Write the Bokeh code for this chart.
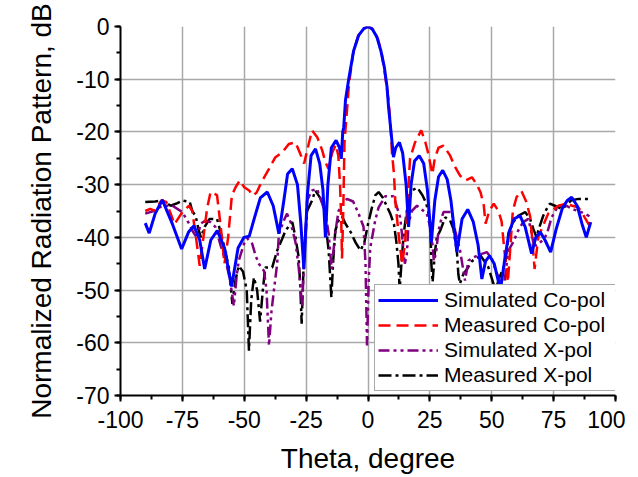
from bokeh.plotting import figure
from bokeh.models import (SingleIntervalTicker, FixedTicker, Legend, LegendItem, Range1d,
                          PrintfTickFormatter, Title)
from bokeh.embed import file_html
from bokeh.resources import INLINE

# ---------------- data ----------------
theta_sim_co = [-90, -88.4, -86, -83.1, -79, -75.3, -72.5, -70.3, -68, -66, -63.5, -60.9, -58, -55.1,
                -52.5, -50.1, -48, -46, -43.5, -40.7, -38.3, -36, -34, -32.5, -30.6, -28.5, -27.2, -25.9,
                -24.5, -23, -21.2, -19.5, -18.2, -17.2, -16.2, -14.8, -12.9, -11.5, -10.8, -10.2, -9.8,
                -9.1, -7.8, -5.8, -3.8, -1.7, 0, 1.6, 3.6, 5.2, 6.6, 7.7, 8.3, 9.4, 10.3, 11.2, 12.7, 14,
                15.4, 16.4, 17.4, 18.8, 20.7, 22.5, 24, 25.6, 27, 28.5, 30.2, 32, 33.5, 35.9, 38, 40.3,
                42.5, 44.5, 46, 47.5, 49.1, 51, 53.5, 55.3, 57, 59, 61.4, 63.5, 66.1, 67.8, 69.6, 71.5,
                73.8, 76, 78.5, 80.5, 82.3, 84.5, 86.5, 88.2, 90]
db_sim_co = [-37.3, -39.2, -35.5, -32.9, -37.5, -42.2, -39.0, -37.8, -40.5, -46.0, -40.5, -38.7, -42.0, -49.3,
             -42.0, -40.0, -39.8, -36.5, -32.5, -31.4, -34.0, -39.3, -33.0, -28.0, -27.0, -30.0, -37.0, -46.0,
             -32.0, -24.5, -23.2, -26.0, -31.0, -40.0, -30.0, -23.0, -21.6, -23.0, -25.1, -20.0, -19.1,
             -14.0, -10.0, -4.6, -1.7, -0.4, 0.0, -0.4, -2.0, -4.6, -7.7, -11.5, -15.3, -20.4, -24.8, -23.0, -22.0, -24.0,
             -30.0, -38.0, -30.0, -25.5, -24.5, -26.0, -31.0, -41.0, -33.0, -28.5, -27.3, -29.0, -33.0, -42.8, -36.5, -34.7,
             -37.0, -41.5, -47.9, -44.5, -43.5, -45.0, -50.0, -44.0, -39.0, -36.5, -35.9, -38.0, -43.1, -40.0, -39.0, -40.5,
             -42.8, -38.5, -34.5, -33.0, -32.4, -34.0, -37.5, -40.0, -37.1]

theta_meas_co = [-90, -88, -86, -83.5, -81.5, -79.7, -78.2, -76.4, -75, -72.3, -71, -69.5, -68, -66.5, -65,
                 -63.6, -61, -59.5, -58, -56.5, -55, -53.5, -51.8, -50, -48, -46.5, -45, -43, -40, -37.4,
                 -34.7, -32, -29.3, -27.5, -25.8, -24.6, -22.6, -20.5, -18.5, -17.2, -16, -14.5, -13, -12,
                 -11.3, -10.8, -10.5, -10, -9.5, -8.5, -7.7, -6, -4, -2, 0, 2, 4, 5.5, 7, 8.3, 9, 9.7, 10.5,
                 11, 12.5, 13.8, 15, 16, 17, 19, 21.5, 23.2, 24.4, 26, 27, 28.5, 30.5, 33.2, 35, 37.2, 39.5,
                 42, 44, 45.5, 46.8, 47.5, 49, 50.8, 52.7, 54, 55, 56.5, 57.5, 58.5, 60, 62, 64, 65.5, 66.5,
                 67.3, 68.8, 70.2, 72.8, 76.9, 80.2, 82.5, 85, 87, 89.5]
db_meas_co = [-35.0, -34.6, -35.0, -33.0, -33.3, -35.5, -37.5, -36.2, -35.2, -34.0, -35.0, -40.0, -45.4, -40.0, -34.5,
              -31.4, -32.0, -38.0, -45.0, -40.0, -32.0, -30.5, -29.2, -30.5, -31.1, -32.1, -31.5, -29.5, -27.0, -24.8,
              -23.9, -22.3, -22.0, -24.0, -26.0, -23.5, -19.7, -21.0, -23.5, -25.7, -27.0, -24.0, -22.4, -24.5,
              -30.0, -37.0, -44.0, -35.0, -22.0, -16.0, -11.0, -5.0, -1.8, -0.5, 0.0, -0.6, -2.4, -5.0, -9.5, -14.0, -18.0, -24.0, -28.0,
              -33.0, -40.0, -45.0, -41.0, -33.0, -25.0, -22.0, -19.7, -22.0, -24.2, -28.0, -25.0, -23.0, -22.6, -24.5, -26.5, -28.3, -29.2,
              -28.6, -30.0, -31.5, -34.0, -37.4, -35.0, -33.6, -35.0, -37.0, -42.0, -48.5, -42.0, -35.0, -32.4, -31.2, -33.3, -36.0, -41.0,
              -46.0, -40.0, -38.4, -35.5, -34.0, -33.6, -34.0, -34.3, -35.8, -37.8]

theta_sim_x = [-90, -86.5, -83.1, -79, -75, -72.3, -71, -69, -67.6, -65.6, -63.7, -61.7, -59.5, -57.5, -55.8,
               -54.2, -53, -52.2, -50.1, -48.8, -46.8, -45.4, -44.1, -42, -41, -40, -39, -38, -36.7, -36,
               -34, -32.7, -31.3, -29.3, -28, -26.6, -25.6, -24.6, -22.6, -20.6, -18.5, -17.2, -15.9, -14.7,
               -13.2, -11.9, -10, -8.5, -6, -3.8, -1.8, -1, -0.4, 0.3, 0.9, 2.9, 4.3, 7, 10.3, 11.7, 13,
               13.7, 14.4, 14.9, 15.7, 16.4, 17.7, 19.8, 23.8, 25.1, 25.8, 26.6, 27.5, 28.5, 29.8, 30.5,
               33.9, 35.2, 37.2, 39.2, 40.6, 42.6, 45, 48, 50, 51.2, 53.2, 54.7, 55.8, 56.7, 58.7, 60.7,
               62.7, 64.8, 65.8, 66.8, 68, 70, 72.2, 74.2, 76.9, 80.2, 82.3, 85, 87.6, 89.5]
db_sim_x = [-35.5, -35.0, -34.0, -34.0, -35.2, -37.4, -38.7, -40.2, -37.4, -36.8, -37.1, -38.0, -41.6, -44.4, -48.0,
            -53.0, -47.0, -44.4, -41.2, -40.2, -41.2, -43.5, -45.0, -46.4, -50.0, -60.5, -54.0, -50.0, -45.0, -39.3,
            -36.8, -35.5, -37.1, -40.9, -45.7, -53.0, -42.0, -33.0, -31.1, -30.8, -33.6, -35.5, -39.3, -46.0,
            -39.0, -35.0, -33.5, -32.7, -33.2, -35.5, -38.0, -45.0, -60.5, -48.0, -42.0, -36.8, -34.3, -32.2, -32.2, -34.3, -36.2,
            -39.3, -43.1, -45.0, -43.1, -37.4, -35.0, -34.0, -35.5, -38.0, -40.0, -44.5, -43.0, -38.7, -36.2, -35.2,
            -35.2, -38.7, -42.5, -48.2, -44.4, -43.8, -43.3, -42.8, -44.0, -45.7, -48.2, -50.0, -46.0, -42.5, -40.9, -38.7,
            -37.1, -36.5, -38.5, -41.0, -41.6, -40.8, -39.5, -36.2, -34.0, -34.0, -34.6, -35.0, -35.5, -36.0]

theta_meas_x = [-90, -86, -83.1, -79.7, -77, -75, -72, -71, -69.6, -68.5, -67.5, -66, -64, -61, -59, -57.5,
                -56.2, -54.8, -53.5, -52.2, -50.5, -49, -48.1, -47.2, -46.1, -44.8, -43.6, -42.5, -41.5,
                -38.7, -36.7, -34.7, -33.3, -30.6, -29.3, -28, -27.3, -26.8, -26, -24.6, -22.6, -21.3, -19.2,
                -17.9, -16.5, -15.9, -14.8, -14, -13.2, -11.9, -10.5, -9, -7, -5, -3, -1.5, 0, 1.5, 3, 4.3,
                6, 7.5, 9, 10.5, 11.5, 12.3, 12.8, 13.5, 14.5, 15.7, 16.4, 18, 20, 22, 23.5, 24.5, 25.2,
                25.6, 26.1, 27, 27.8, 29.2, 31.2, 33.2, 34.5, 35.9, 36.5, 37.1, 38.5, 40, 42, 45.5, 48.5,
                51.5, 53.2, 55.4, 56.2, 56.7, 58.7, 60.7, 63.5, 65.5, 66.8, 68.1, 69, 70.8, 72.2, 73.5, 75.5,
                78.2, 80.2, 82, 85, 89]
db_meas_x = [-33.3, -33.2, -33.0, -34.0, -33.5, -33.0, -33.3, -35.0, -36.0, -38.5, -40.0, -38.0, -36.5, -36.5, -40.0, -43.0,
             -45.7, -52.6, -48.0, -45.4, -46.5, -50.0, -61.5, -52.0, -47.6, -50.0, -56.0, -50.0, -45.7,
             -45.7, -42.5, -40.3, -38.7, -37.1, -40.0, -43.8, -50.0, -56.4, -45.0, -35.0, -33.0, -31.1, -32.6,
             -34.3, -40.0, -42.5, -51.4, -44.0, -38.7, -36.8, -36.0, -37.5, -39.0, -41.0, -42.5, -41.0, -37.5, -34.5, -32.0, -31.4,
             -32.5, -34.0, -35.5, -37.5, -41.0, -45.0, -50.0, -45.0, -39.0, -35.0, -33.0, -31.0, -30.6, -32.0, -33.5, -35.5, -37.5,
             -45.0, -48.5, -43.0, -40.0, -38.7, -36.2, -36.8, -38.4, -42.5, -47.0, -48.8, -47.0, -46.0, -44.5, -43.5, -45.5,
             -50.0, -47.5, -45.0, -42.0, -39.3, -37.1, -35.9, -35.2, -36.5, -38.4, -40.0, -38.4, -35.9, -34.6, -33.6, -34.0,
             -34.6, -34.0, -33.0, -32.7, -32.7]

series_names = ["Simulated Co-pol", "Measured Co-pol", "Simulated X-pol", "Measured X-pol"]
x_ticks = [-100, -75, -50, -25, 0, 25, 50, 75, 100]
y_ticks = [-70, -60, -50, -40, -30, -20, -10, 0]
x_title = "Theta, degree"
y_title = "Normalized Radiation Pattern, dB"

FONT = "Liberation Sans"

p = figure(frame_width=495, frame_height=369, min_border_left=120, min_border_right=10,
           min_border_top=26, min_border_bottom=76,
           x_range=Range1d(x_ticks[0], x_ticks[-1]), y_range=Range1d(y_ticks[0], y_ticks[-1]),
           output_backend="svg", toolbar_location=None)
p.outline_line_color = None
p.background_fill_color = "white"
p.border_fill_color = "white"

# axes
for ax, interval in ((p.xaxis[0], x_ticks[1] - x_ticks[0]), (p.yaxis[0], y_ticks[1] - y_ticks[0])):
    ax.ticker = SingleIntervalTicker(interval=interval, num_minor_ticks=2)
    ax.formatter = PrintfTickFormatter(format="%d")
    ax.axis_line_color = "black"
    ax.axis_line_width = 2
    ax.major_tick_line_color = "black"
    ax.major_tick_line_width = 2
    ax.major_tick_out = 6
    ax.major_tick_in = 0
    ax.minor_tick_line_color = "black"
    ax.minor_tick_line_width = 2
    ax.minor_tick_out = 4
    ax.minor_tick_in = 0
    ax.major_label_text_font = FONT
    ax.major_label_text_font_size = "23px"
    ax.major_label_text_color = "black"
    ax.axis_label_text_font = FONT
    ax.axis_label_text_font_size = "28px"
    ax.axis_label_text_font_style = "normal"
    ax.axis_label_text_color = "black"

p.xaxis.axis_label = x_title
p.xaxis.major_label_standoff = 9
p.xaxis.axis_label_standoff = 12
p.yaxis.major_label_standoff = 5

# y-axis title as a side title (longer than the frame)
ytitle = Title(text=y_title, align="center", offset=-19, standoff=34, text_font=FONT,
               text_font_size="28px", text_font_style="normal", text_color="black")
p.add_layout(ytitle, "left")

# grid (interior lines only)
p.xgrid.ticker = FixedTicker(ticks=x_ticks[1:-1])
p.ygrid.ticker = FixedTicker(ticks=y_ticks[1:-1])
for g in (p.xgrid[0], p.ygrid[0]):
    g.grid_line_color = "#a8a8a8"
    g.grid_line_width = 1.5

# lines
r_mx = p.line(theta_meas_x, db_meas_x, line_color="black", line_width=2.5, line_dash="13 4 3 4")
r_sx = p.line(theta_sim_x, db_sim_x, line_color="#800080", line_width=2.5, line_dash="11 4 3 4 3 4")
r_mc = p.line(theta_meas_co, db_meas_co, line_color="#ff0000", line_width=2.5, line_dash="12 6")
r_sc = p.line(theta_sim_co, db_sim_co, line_color="#0000ff", line_width=3)

legend = Legend(items=[LegendItem(label=series_names[0], renderers=[r_sc]),
                       LegendItem(label=series_names[1], renderers=[r_mc]),
                       LegendItem(label=series_names[2], renderers=[r_sx]),
                       LegendItem(label=series_names[3], renderers=[r_mx])],
                location=(254, 4))
legend.label_text_font = FONT
legend.label_text_font_size = "21px"
legend.label_text_color = "black"
legend.glyph_width = 60
legend.glyph_height = 20
legend.label_height = 20
legend.label_width = 172
legend.label_standoff = 6
legend.spacing = 1
legend.padding = 3
legend.margin = 0
legend.border_line_color = "#555555"
legend.border_line_width = 1.5
legend.background_fill_color = "white"
legend.background_fill_alpha = 1.0
p.add_layout(legend, "center")

open("out.html", "w").write(file_html(p, INLINE))
